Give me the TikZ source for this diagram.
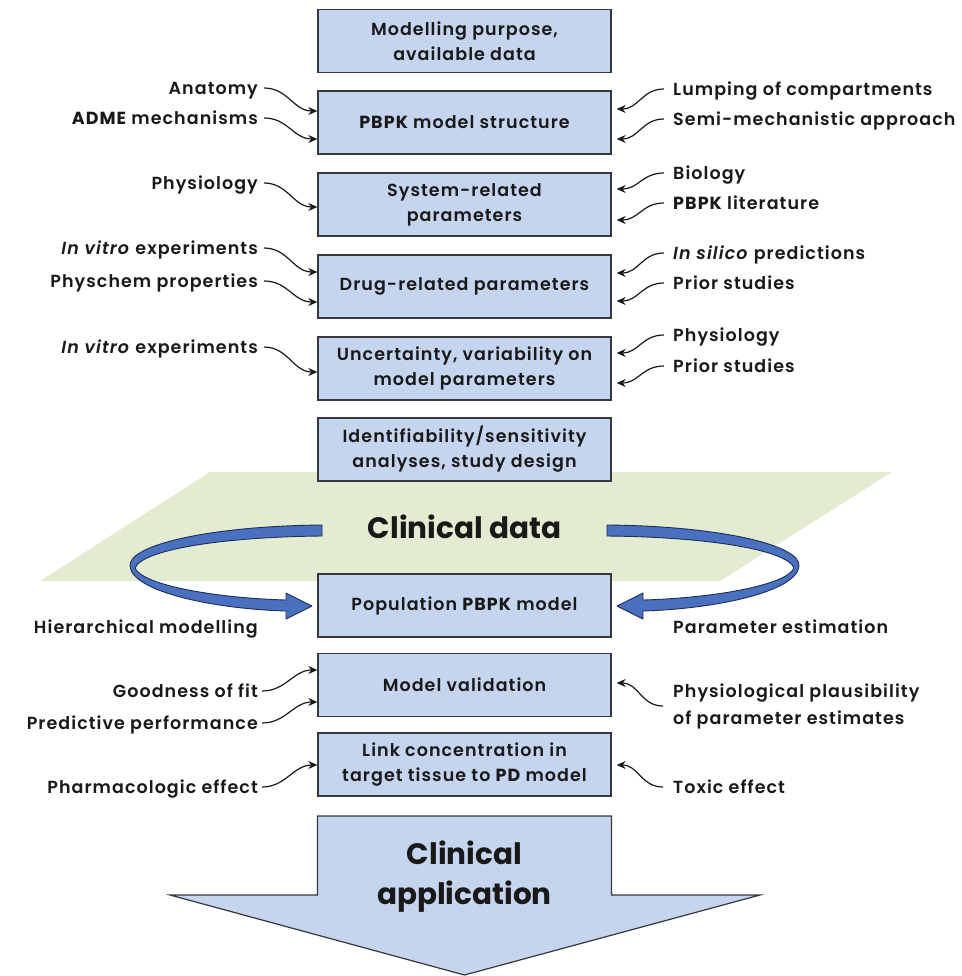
\documentclass[tikz,border=0pt]{standalone}
\usepackage{fontspec}
\setmainfont{Poppins}[UprightFont={* SemiBold}, BoldFont={* Bold},
  ItalicFont={* SemiBold Italic}, BoldItalicFont={* Bold Italic}, LetterSpace=6]
\newfontfamily\headfont{Poppins}[UprightFont={* Bold}, BoldFont={* Bold}]
\usetikzlibrary{arrows.meta}
\definecolor{boxfill}{RGB}{198,213,239}
\definecolor{boxline}{RGB}{55,55,60}
\definecolor{planefill}{RGB}{227,235,208}
\definecolor{ribbonfill}{RGB}{74,112,192}
\definecolor{ribbonline}{RGB}{30,45,90}
\definecolor{inkcol}{RGB}{25,25,25}
\newcommand\acr[1]{{\bfseries #1}}
\begin{document}
\begin{tikzpicture}[x=1pt,y=-1pt,
  box/.style={draw=boxline, line width=1.3pt, fill=boxfill, minimum width=293pt,
    minimum height=63pt, inner sep=0pt, align=center, text=inkcol,
    font=\fontsize{17.5}{25}\selectfont},
  lab/.style={inner sep=0pt, text height=12.5pt, text depth=0pt, text=inkcol,
    font=\fontsize{17.5}{26}\selectfont},
  feed/.style={line width=1.2pt, draw=inkcol, -{Stealth[length=9pt,width=8pt]}},
  ribbon/.style={fill=ribbonfill, draw=ribbonline, line width=0.9pt, line join=round},
  big/.style={font=\headfont\fontsize{29.5}{40}\selectfont, text=inkcol, inner sep=0pt, align=center}]
\useasboundingbox (0,0) rectangle (961,976);

% clinical data plane
\fill[planefill] (210,472) -- (892,472) -- (720,581) -- (40,581) -- cycle;
\node[big] (cdata) at (464.5,527) {Clinical data};

% feedback ribbons from the clinical data to the population model
\path[ribbon] (322,525) .. controls (210,526) and (128,545) .. (130,566)
  .. controls (132,592) and (215,609) .. (286,611) -- (286,619) -- (312,606)
  -- (286,593) -- (286,600) .. controls (215,598) and (142,585) .. (135,568)
  .. controls (142,550) and (220,537) .. (322,536) -- cycle;
\begin{scope}[shift={(929,0)}, xscale=-1]
\path[ribbon] (322,525) .. controls (210,526) and (128,545) .. (130,566)
  .. controls (132,592) and (215,609) .. (286,611) -- (286,619) -- (312,606)
  -- (286,593) -- (286,600) .. controls (215,598) and (142,585) .. (135,568)
  .. controls (142,550) and (220,537) .. (322,536) -- cycle;
\end{scope}

% workflow steps
\node[box] (purpose) at (464.5,41) {Modelling purpose,\\available data};
\node[box] (structure) at (464.5,122.5) {\acr{PBPK} model structure};
\node[box] (system) at (464.5,204.5) {System-related\\parameters};
\node[box] (drug) at (464.5,286.5) {Drug-related parameters};
\node[box] (uncert) at (464.5,368.5) {Uncertainty, variability on\\model parameters};
\node[box] (ident) at (464.5,449.5) {Identifiability/sensitivity\\analyses, study design};
\node[box] (popul) at (464.5,605.5) {Population \acr{PBPK} model};
\node[box] (valid) at (464.5,685) {Model validation};
\node[box] (link) at (464.5,764.5) {Link concentration in\\target tissue to \acr{PD} model};

% final outcome arrow
\path[draw=boxline, line width=1.2pt, fill=boxfill, line join=miter]
  (317.5,816) -- (611.5,816) -- (611.5,895) -- (760,895) -- (464.5,975)
  -- (170,895) -- (317.5,895) -- cycle;
\node[big] (app) at (464.5,877) {Clinical\\application};

% inputs on the left
\node[lab, anchor=east] (anat) at (258,88) {Anatomy};
\node[lab, anchor=east] (adme) at (258,118) {\acr{ADME} mechanisms};
\node[lab, anchor=east] (physl) at (258,183) {Physiology};
\node[lab, anchor=east] (vitroa) at (258,248) {\textit{In vitro} experiments};
\node[lab, anchor=east] (physchem) at (258,281) {Physchem properties};
\node[lab, anchor=east] (vitrob) at (258,347) {\textit{In vitro} experiments};
\node[lab, anchor=east] (hier) at (258,627) {Hierarchical modelling};
\node[lab, anchor=east] (good) at (258,691) {Goodness of fit};
\node[lab, anchor=east] (pred) at (258,723) {Predictive performance};
\node[lab, anchor=east] (pharm) at (258,787) {Pharmacologic effect};

% inputs on the right
\node[lab, anchor=west] (lump) at (673,89) {Lumping of compartments};
\node[lab, anchor=west] (semi) at (673,119) {Semi-mechanistic approach};
\node[lab, anchor=west] (biol) at (673,173) {Biology};
\node[lab, anchor=west] (lit) at (673,203) {\acr{PBPK} literature};
\node[lab, anchor=west] (silico) at (673,253) {\textit{In silico} predictions};
\node[lab, anchor=west] (priora) at (673,283) {Prior studies};
\node[lab, anchor=west] (physr) at (673,335) {Physiology};
\node[lab, anchor=west] (priorb) at (673,366) {Prior studies};
\node[lab, anchor=west] (estim) at (673,627) {Parameter estimation};
\node[inner sep=0pt, anchor=west, align=left, text=inkcol,
  font=\fontsize{17.5}{27}\selectfont] (plaus) at (673,706)
  {Physiological plausibility\\of parameter estimates};
\node[lab, anchor=west] (toxic) at (673,787) {Toxic effect};

% left-hand feeds
\draw[feed] ([xshift=6pt]anat.east) .. controls +(24,0) and +(-24,0) .. (structure.west |- 0,111);
\draw[feed] ([xshift=6pt]adme.east) .. controls +(24,0) and +(-24,0) .. (structure.west |- 0,139);
\draw[feed] ([xshift=6pt]physl.east) .. controls +(24,0) and +(-24,0) .. (system.west |- 0,207);
\draw[feed] ([xshift=6pt]vitroa.east) .. controls +(24,0) and +(-24,0) .. (drug.west |- 0,272);
\draw[feed] ([xshift=6pt]physchem.east) .. controls +(24,0) and +(-24,0) .. (drug.west |- 0,302);
\draw[feed] ([xshift=6pt]vitrob.east) .. controls +(24,0) and +(-24,0) .. (uncert.west |- 0,372);
\draw[feed] ([xshift=4pt]good.east) .. controls +(24,0) and +(-24,0) .. (valid.west |- 0,670);
\draw[feed] ([xshift=4pt]pred.east) .. controls +(24,0) and +(-24,0) .. (valid.west |- 0,702);
\draw[feed] ([xshift=4pt]pharm.east) .. controls +(24,0) and +(-24,0) .. (link.west |- 0,765);

% right-hand feeds
\draw[feed] ([xshift=-9pt]lump.west) .. controls +(-22,0) and +(22,0) .. ([xshift=5pt]structure.east |- 0,109);
\draw[feed] ([xshift=-9pt]semi.west) .. controls +(-22,0) and +(22,0) .. ([xshift=5pt]structure.east |- 0,139);
\draw[feed] ([xshift=-9pt]biol.west) .. controls +(-22,0) and +(22,0) .. ([xshift=5pt]system.east |- 0,189);
\draw[feed] ([xshift=-9pt]lit.west) .. controls +(-22,0) and +(22,0) .. ([xshift=5pt]system.east |- 0,220);
\draw[feed] ([xshift=-9pt]silico.west) .. controls +(-22,0) and +(22,0) .. ([xshift=5pt]drug.east |- 0,273);
\draw[feed] ([xshift=-9pt]priora.west) .. controls +(-22,0) and +(22,0) .. ([xshift=5pt]drug.east |- 0,301);
\draw[feed] ([xshift=-9pt]physr.west) .. controls +(-22,0) and +(22,0) .. ([xshift=5pt]uncert.east |- 0,353);
\draw[feed] ([xshift=-9pt]priorb.west) .. controls +(-22,0) and +(22,0) .. ([xshift=5pt]uncert.east |- 0,383);
\draw[feed] ([xshift=-10pt]plaus.west) .. controls +(-22,0) and +(22,0) .. ([xshift=5pt]valid.east |- 0,683);
\draw[feed] ([xshift=-10pt]toxic.west) .. controls +(-22,0) and +(22,0) .. ([xshift=5pt]link.east |- 0,765);
\end{tikzpicture}
\end{document}
